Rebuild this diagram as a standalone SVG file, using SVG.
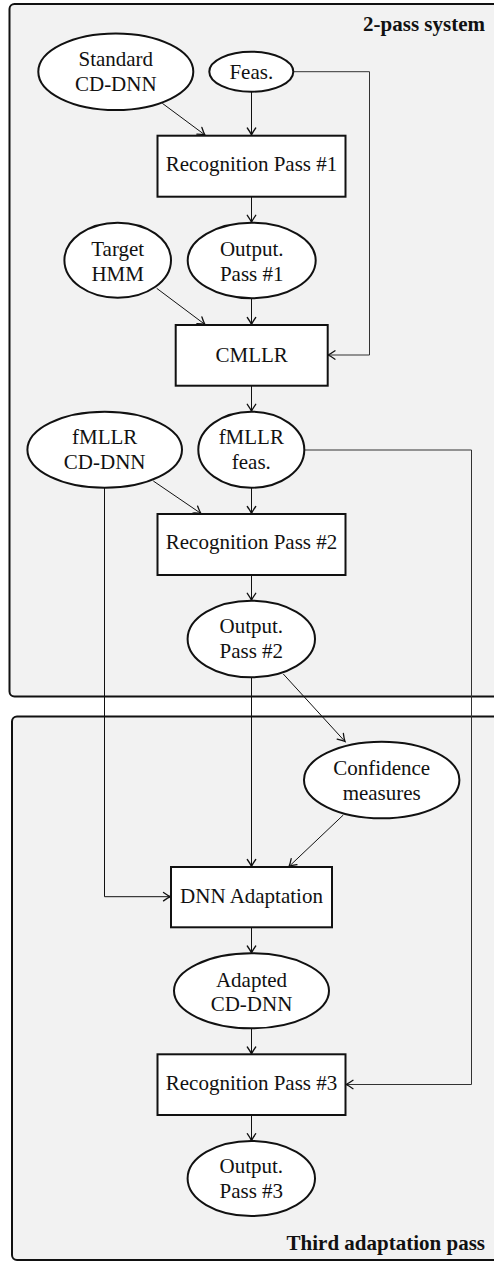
<svg xmlns="http://www.w3.org/2000/svg" width="494" height="1267" viewBox="0 0 494 1267">
  <defs>
    <marker id="arr" markerUnits="userSpaceOnUse" markerWidth="14" markerHeight="14" viewBox="-10 -7 12 14" refX="0" refY="0" orient="auto">
      <path d="M-7,-4.2 Q-2.5,-1 0,0 Q-2.5,1 -7,4.2" fill="none" stroke="#111" stroke-width="1.3" stroke-linecap="round"/>
    </marker>
    <style>
      .panel { fill: #f2f2f2; stroke: #111; stroke-width: 2; }
      .node { fill: #fff; stroke: #111; stroke-width: 2; }
      .lbl { font-family: "Liberation Serif", "Times New Roman", serif; font-size: 21px; fill: #111; text-anchor: middle; }
      .title { font-family: "Liberation Serif", "Times New Roman", serif; font-size: 21px; font-weight: bold; fill: #111; text-anchor: end; }
      .edge { fill: none; stroke: #111; stroke-width: 1; marker-end: url(#arr); }
      .edge.long { stroke: #333; }
    </style>
  </defs>

  <!-- panels -->
  <g id="panel-2pass">
    <rect class="panel" x="9.5" y="4" width="500" height="692.5" rx="5"/>
    <text class="title" x="485" y="31">2-pass system</text>
  </g>
  <g id="panel-third">
    <rect class="panel" x="12" y="716.5" width="500" height="543.5" rx="5"/>
    <text class="title" x="485" y="1250">Third adaptation pass</text>
  </g>

  <!-- connectors -->
  <g id="connectors">
    <path class="edge" d="M162.3,103.3 L205,135"/>
    <path class="edge" d="M251.5,91.7 V135"/>
    <path class="edge long" d="M293.3,71.7 H369.5 V355 H328"/>
    <path class="edge" d="M251.5,196.7 V222.3"/>
    <path class="edge" d="M156.7,288.3 L205,324.5"/>
    <path class="edge" d="M251.5,298.3 V324.5"/>
    <path class="edge" d="M251.5,385.7 V411.3"/>
    <path class="edge" d="M153.3,481 L201,513.5"/>
    <path class="edge" d="M251.5,487.7 V513.5"/>
    <path class="edge long" d="M304.3,450 H471.5 V1084.5 H346"/>
    <path class="edge" d="M104.5,487.7 V896.7 H170.5"/>
    <path class="edge" d="M251.5,575 V600.3"/>
    <path class="edge" d="M251.5,677.3 V866.5"/>
    <path class="edge" d="M283.3,674 L345,741.5"/>
    <path class="edge" d="M343.3,815 L289,866.5"/>
    <path class="edge" d="M251.5,927.3 V953"/>
    <path class="edge" d="M251.5,1028.3 V1054"/>
    <path class="edge" d="M251.5,1115 V1140.7"/>
  </g>

  <!-- nodes -->
  <g id="standard-cd-dnn">
    <ellipse class="node" cx="115.8" cy="71.7" rx="77.5" ry="38.3"/>
    <text class="lbl" x="115.8" y="66">Standard</text>
    <text class="lbl" x="115.8" y="90.7">CD-DNN</text>
  </g>
  <g id="feas">
    <ellipse class="node" cx="251.3" cy="71.7" rx="42" ry="20"/>
    <text class="lbl" x="251.3" y="79.3">Feas.</text>
  </g>
  <g id="recognition-pass-1">
    <rect class="node" x="157.5" y="135.7" width="188" height="61"/>
    <text class="lbl" x="251.5" y="171">Recognition Pass #1</text>
  </g>
  <g id="target-hmm">
    <ellipse class="node" cx="117.7" cy="260.2" rx="53.3" ry="37.5"/>
    <text class="lbl" x="117.7" y="256">Target</text>
    <text class="lbl" x="117.7" y="280.7">HMM</text>
  </g>
  <g id="output-pass-1">
    <ellipse class="node" cx="251.7" cy="260.5" rx="64" ry="37.8"/>
    <text class="lbl" x="251.7" y="256">Output.</text>
    <text class="lbl" x="251.7" y="280.7">Pass #1</text>
  </g>
  <g id="cmllr">
    <rect class="node" x="175.7" y="325" width="152" height="60.7"/>
    <text class="lbl" x="251.7" y="362">CMLLR</text>
  </g>
  <g id="fmllr-cd-dnn">
    <ellipse class="node" cx="104.7" cy="449.7" rx="77.3" ry="38"/>
    <text class="lbl" x="104.7" y="444">fMLLR</text>
    <text class="lbl" x="104.7" y="469">CD-DNN</text>
  </g>
  <g id="fmllr-feas">
    <ellipse class="node" cx="251.3" cy="449.7" rx="53" ry="38"/>
    <text class="lbl" x="251.3" y="444">fMLLR</text>
    <text class="lbl" x="251.3" y="469">feas.</text>
  </g>
  <g id="recognition-pass-2">
    <rect class="node" x="157.5" y="514" width="188" height="61"/>
    <text class="lbl" x="251.5" y="548.5">Recognition Pass #2</text>
  </g>
  <g id="output-pass-2">
    <ellipse class="node" cx="251.3" cy="639" rx="63.7" ry="38.3"/>
    <text class="lbl" x="251.3" y="633.3">Output.</text>
    <text class="lbl" x="251.3" y="658.3">Pass #2</text>
  </g>
  <g id="confidence-measures">
    <ellipse class="node" cx="381.7" cy="780" rx="77.7" ry="38.3"/>
    <text class="lbl" x="381.7" y="775">Confidence</text>
    <text class="lbl" x="381.7" y="800">measures</text>
  </g>
  <g id="dnn-adaptation">
    <rect class="node" x="171" y="867" width="161" height="60.3"/>
    <text class="lbl" x="251.5" y="903">DNN Adaptation</text>
  </g>
  <g id="adapted-cd-dnn">
    <ellipse class="node" cx="251.5" cy="990.8" rx="77.5" ry="37.5"/>
    <text class="lbl" x="251.5" y="986.7">Adapted</text>
    <text class="lbl" x="251.5" y="1010.7">CD-DNN</text>
  </g>
  <g id="recognition-pass-3">
    <rect class="node" x="157.5" y="1054.3" width="188" height="60.7"/>
    <text class="lbl" x="251.5" y="1090">Recognition Pass #3</text>
  </g>
  <g id="output-pass-3">
    <ellipse class="node" cx="251.3" cy="1178.5" rx="63.7" ry="37.5"/>
    <text class="lbl" x="251.3" y="1173.3">Output.</text>
    <text class="lbl" x="251.3" y="1198.3">Pass #3</text>
  </g>
</svg>
